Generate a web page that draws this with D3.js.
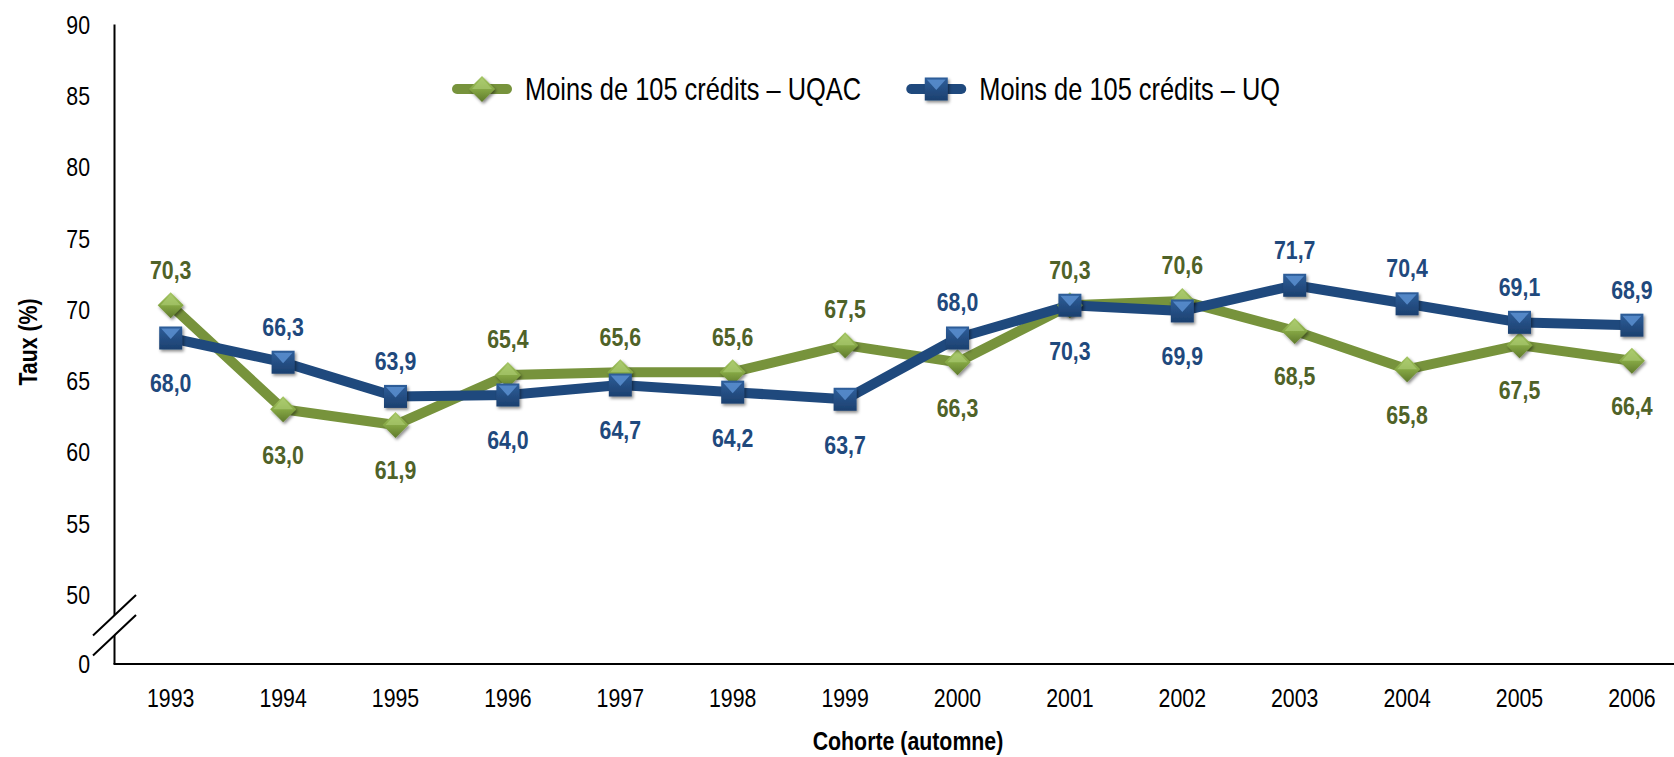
<!DOCTYPE html>
<html>
<head>
<meta charset="utf-8">
<script src="https://cdn.jsdelivr.net/npm/d3@7"></script>
<style>
  body { margin: 0; background: #fff; }
  svg text { font-family: 'Liberation Sans Narrow', 'Arial Narrow', 'Liberation Sans', Arial, sans-serif; }
</style>
</head>
<body>
<div id="chart"></div>
<script>
const years       = ['1993', '1994', '1995', '1996', '1997', '1998', '1999', '2000', '2001', '2002', '2003', '2004', '2005', '2006']
const uqacValues  = [70.3, 63.0, 61.9, 65.4, 65.6, 65.6, 67.5, 66.3, 70.3, 70.6, 68.5, 65.8, 67.5, 66.4]
const uqValues    = [68.0, 66.3, 63.9, 64.0, 64.7, 64.2, 63.7, 68.0, 70.3, 69.9, 71.7, 70.4, 69.1, 68.9]
const yTicks      = [0, 50, 55, 60, 65, 70, 75, 80, 85, 90]
const seriesNames = ['Moins de 105 crédits – UQAC', 'Moins de 105 crédits – UQ']

const width  = 1674
const height = 757
const axisX  = 114.5
const squeeze = 0.82   // no narrow font installed: compress glyphs horizontally

const lineColors  = ['#77933C', '#1F497D']
const labelColors = ['#4F6228', '#1F497D']
const fmt = d3.format('.1f')
function frNum(v) { return fmt(v).replace('.', ',') }

// move x/y into a transform and squeeze horizontally around the anchor
function narrow(sel) {
  sel.each(function() {
    var el = d3.select(this)
    var tx = +el.attr('x') || 0
    var ty = +el.attr('y') || 0
    var pre = el.attr('transform') || ''
    el.attr('x', 0).attr('y', 0)
      .attr('transform', pre + ' translate(' + tx + ',' + ty + ') scale(' + squeeze + ',1)')
  })
  return sel
}

const svg = d3.select('#chart').append('svg').attr('width', width).attr('height', height)
const defs = svg.append('defs')

// marker shading
const gGreen = defs.append('linearGradient').attr('id', 'gradGreen').attr('x1', 0).attr('y1', 0).attr('x2', 0).attr('y2', 1)
gGreen.append('stop').attr('offset', '0%').attr('stop-color', '#A6C766')
gGreen.append('stop').attr('offset', '50%').attr('stop-color', '#86A845')
gGreen.append('stop').attr('offset', '100%').attr('stop-color', '#5F7A2C')
const gBlue = defs.append('linearGradient').attr('id', 'gradBlue').attr('x1', 0).attr('y1', 0).attr('x2', 0).attr('y2', 1)
gBlue.append('stop').attr('offset', '0%').attr('stop-color', '#2E5E9A')
gBlue.append('stop').attr('offset', '100%').attr('stop-color', '#1C406F')
const shadow = defs.append('filter').attr('id', 'shadow').attr('x', '-50%').attr('y', '-50%').attr('width', '200%').attr('height', '200%')
shadow.append('feDropShadow').attr('dx', 1.5).attr('dy', 2).attr('stdDeviation', 1.6).attr('flood-color', '#000').attr('flood-opacity', 0.45)

// scales (broken y axis: 0 then 50..90)
const x = d3.scaleBand().domain(years).range([axisX, axisX + 14 * 112.4])
const xc = d => x(d) + x.bandwidth() / 2
const y = d3.scaleLinear().domain([0, 50, 90]).range([664, 594.5, 24.5])

// y axis
svg.append('line').attr('x1', axisX).attr('x2', axisX).attr('y1', y(90)).attr('y2', y(0))
  .attr('stroke', '#000').attr('stroke-width', 2)
svg.append('g').selectAll('text').data(yTicks).enter().append('text')
  .attr('x', 90).attr('y', d => y(d)).attr('dy', '0.36em')
  .attr('text-anchor', 'end').style('font-size', '26px').attr('fill', '#000')
  .text(d => d)
  .call(narrow)

// axis break
const b0 = (y(0) + y(50)) / 2 - 4
svg.append('polygon')
  .attr('points', [[axisX - 6, b0 - 10 + 5.7], [axisX + 6, b0 - 10 - 5.7], [axisX + 6, b0 + 10 - 5.7], [axisX - 6, b0 + 10 + 5.7]].map(p => p.join(',')).join(' '))
  .attr('fill', '#fff')
;[-10, 10].forEach(off => {
  svg.append('line')
    .attr('x1', axisX - 21.5).attr('y1', b0 + off + 20.3)
    .attr('x2', axisX + 21.5).attr('y2', b0 + off - 20.3)
    .attr('stroke', '#000').attr('stroke-width', 2)
})

// x axis
svg.append('line').attr('x1', axisX - 1).attr('x2', width).attr('y1', y(0)).attr('y2', y(0))
  .attr('stroke', '#000').attr('stroke-width', 2)
svg.append('g').selectAll('text').data(years).enter().append('text')
  .attr('x', d => xc(d)).attr('y', 698).attr('dy', '0.36em')
  .attr('text-anchor', 'middle').style('font-size', '26px').attr('fill', '#000')
  .text(d => d)
  .call(narrow)

// axis titles
svg.append('text').attr('transform', 'translate(28,342) rotate(-90)').attr('dy', '0.36em')
  .attr('text-anchor', 'middle').style('font-size', '26px').style('font-weight', 'bold')
  .text('Taux (%)')
  .call(narrow)
svg.append('text').attr('x', 908).attr('y', 741).attr('dy', '0.36em')
  .attr('text-anchor', 'middle').style('font-size', '26px').style('font-weight', 'bold')
  .text('Cohorte (automne)')
  .call(narrow)

// lines
const allSeries = [uqacValues, uqValues]
const line = d3.line().x((d, i) => xc(years[i])).y(d => y(d))
allSeries.forEach((vals, s) => {
  svg.append('path').datum(vals)
    .attr('d', line)
    .attr('fill', 'none')
    .attr('stroke', lineColors[s])
    .attr('stroke-width', 10)
    .attr('stroke-linejoin', 'round')
    .attr('stroke-linecap', 'round')
})

function drawMarker(g, s, cx, cy) {
  if (s == 0) {
    const r = 13
    g.append('path')
      .attr('d', `M${cx},${cy - r}L${cx + r},${cy}L${cx},${cy + r}L${cx - r},${cy}Z`)
      .attr('fill', 'url(#gradGreen)').attr('filter', 'url(#shadow)')
    g.append('path')
      .attr('d', `M${cx},${cy - r + 2}L${cx + r - 3},${cy}L${cx - r + 3},${cy}Z`)
      .attr('fill', '#B3D17A').attr('opacity', 0.55)
  } else {
    const h = 11.5
    g.append('rect').attr('x', cx - h).attr('y', cy - h).attr('width', 2 * h).attr('height', 2 * h)
      .attr('fill', 'url(#gradBlue)').attr('filter', 'url(#shadow)')
    g.append('path')
      .attr('d', `M${cx - h + 2},${cy - h + 2}L${cx + h - 2},${cy - h + 2}L${cx},${cy + 1}Z`)
      .attr('fill', '#5B8FD0').attr('opacity', 0.85)
  }
}

// markers and labels
allSeries.forEach((vals, s) => {
  const g = svg.append('g')
  vals.forEach((v, i) => drawMarker(g, s, xc(years[i]), y(v)))
})
allSeries.forEach((vals, s) => {
  const other = allSeries[1 - s]
  svg.append('g').selectAll('text').data(vals).enter().append('text')
    .attr('x', (d, i) => xc(years[i]))
    .attr('y', (d, i) => {
      const above = d > other[i] || (d == other[i] && s == 0)
      return above ? y(d) - 36 : y(d) + 45
    })
    .attr('dy', '0.36em')
    .attr('text-anchor', 'middle')
    .style('font-size', '26px').style('font-weight', 'bold')
    .attr('fill', labelColors[s])
    .text(d => frNum(d))
    .call(narrow)
})

// legend
let lx = 452
const ly = 89
seriesNames.forEach((name, s) => {
  const g = svg.append('g')
  g.append('line').attr('x1', lx + 5).attr('x2', lx + 55).attr('y1', ly).attr('y2', ly)
    .attr('stroke', lineColors[s]).attr('stroke-width', 10).attr('stroke-linecap', 'round')
  drawMarker(g, s, lx + 30, ly)
  const t = g.append('text').attr('x', lx + 73).attr('y', ly).attr('dy', '0.36em')
    .style('font-size', '31px').attr('fill', '#000').text(name)
  const len = t.node().getComputedTextLength() * squeeze
  t.call(narrow)
  lx = lx + 73 + len + 45
})
</script>
</body>
</html>
